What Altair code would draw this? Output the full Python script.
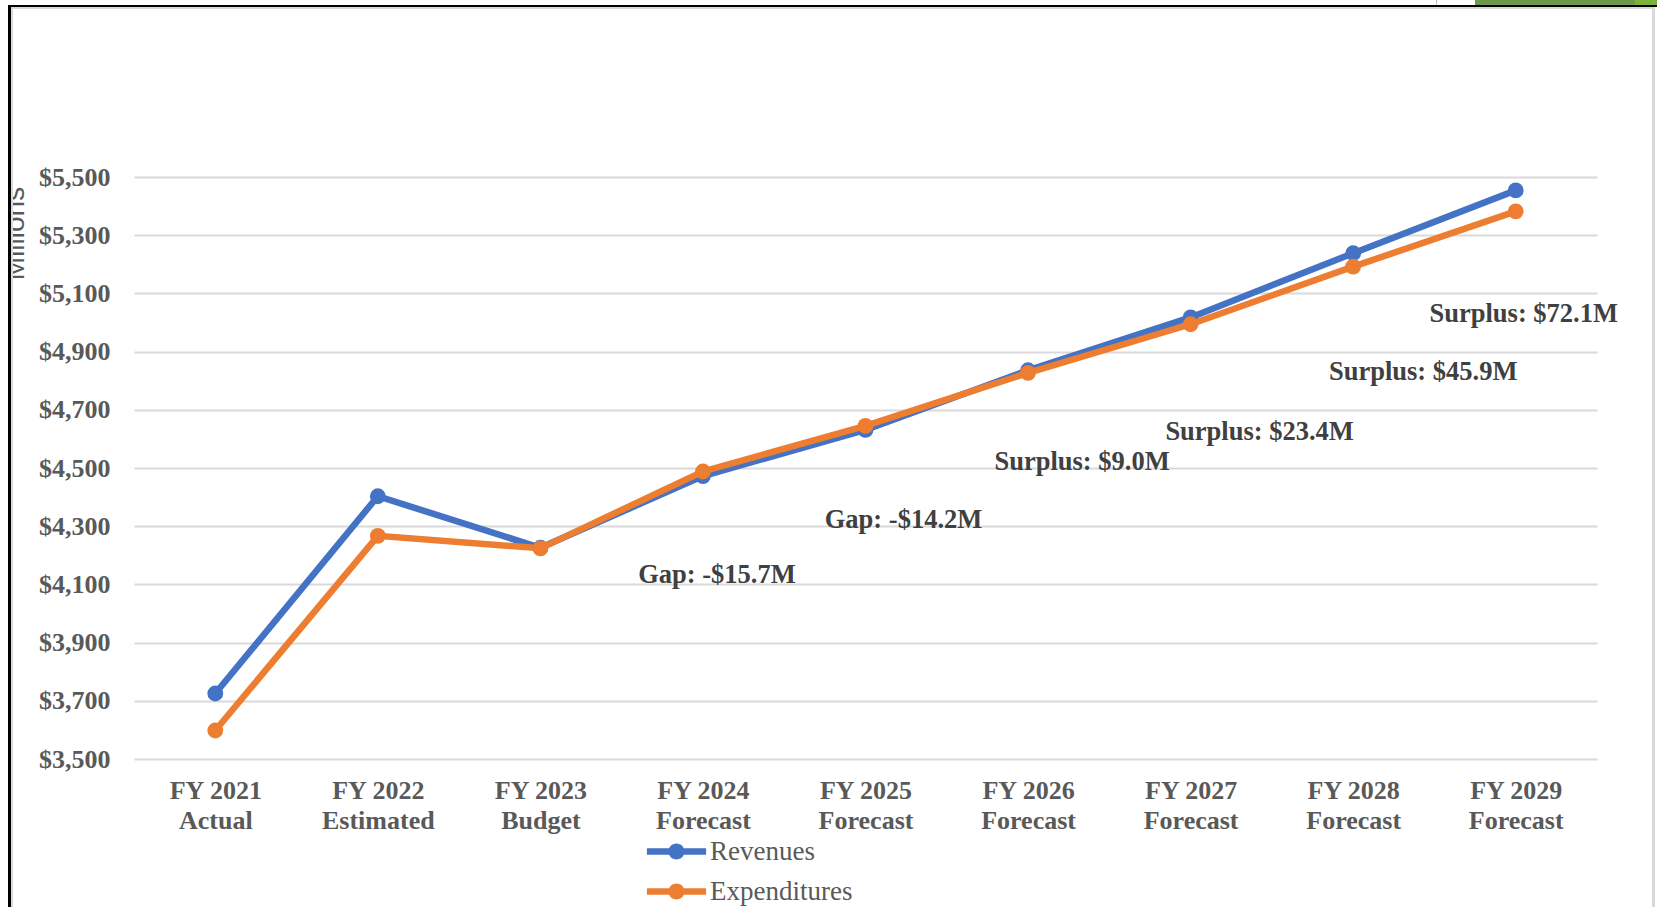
import altair as alt
import pandas as pd

# ---- data (millions of dollars) ----
fiscal_years = ["FY 2021", "FY 2022", "FY 2023", "FY 2024", "FY 2025",
                "FY 2026", "FY 2027", "FY 2028", "FY 2029"]
stages = ["Actual", "Estimated", "Budget", "Forecast", "Forecast",
          "Forecast", "Forecast", "Forecast", "Forecast"]
revenues = [3725.0, 4403.0, 4226.0, 4472.3, 4630.8, 4836.0, 5017.4, 5238.0, 5454.0]
expenditures = [3598.0, 4267.0, 4224.0, 4488.0, 4645.0, 4827.0, 4994.0, 5192.1, 5381.9]
# height (in millions) at which each gap/surplus note sits; None = no note
note_levels = [None, None, None, 4131, 4320, 4520, 4625, 4831, 5028]
y_ticks = [3500, 3700, 3900, 4100, 4300, 4500, 4700, 4900, 5100, 5300, 5500]

# horizontal nudge of each note from its fiscal-year position (px)
NOTE_DX = [0, 0, 0, 14, 38, 54, 69, 70, 8]

categories = [f"{y} {s}" for y, s in zip(fiscal_years, stages)]
series_names = ["Revenues", "Expenditures"]
series_colors = ["#4472C4", "#ED7D31"]

rows = []
for name, vals in zip(series_names, [revenues, expenditures]):
    for c, v in zip(categories, vals):
        rows.append({"category": c, "series": name, "value": v})
df = pd.DataFrame(rows)

notes = []
for c, r, e, lvl, dx in zip(categories, revenues, expenditures, note_levels, NOTE_DX):
    if lvl is None:
        continue
    d = round(r - e, 1)
    text = f"Surplus: ${d:.1f}M" if d >= 0 else f"Gap: -${abs(d):.1f}M"
    notes.append({"category": c, "level": lvl, "note": text, "dx": dx})
notes_df = pd.DataFrame(notes)

SERIF = "Liberation Serif"
GREY = "#595959"

# line + marker glyph for the legend (wide bar with a dot in the middle)
LEGEND_GLYPH = ("M-3.7,-0.4 L3.7,-0.4 L3.7,0.4 L-3.7,0.4 Z "
                "M1,0 A1,1 0 1,1 -1,0 A1,1 0 1,1 1,0 Z")

x_enc = alt.X(
    "category:N",
    sort=categories,
    title=None,
    axis=alt.Axis(
        labelAngle=0,
        labelExpr="[slice(datum.value, 0, 7), slice(datum.value, 8)]",
        labelFont=SERIF, labelFontSize=26, labelFontWeight="bold",
        labelColor=GREY, labelLineHeight=30, labelPadding=18,
        ticks=False, tickSize=0, domain=False, grid=False,
    ),
)
y_enc = alt.Y(
    "value:Q",
    scale=alt.Scale(domain=[3500, 5500], nice=False, zero=False),
    axis=alt.Axis(
        values=y_ticks, format="$,.0f",
        labelFont=SERIF, labelFontSize=26, labelFontWeight="bold",
        labelColor=GREY, labelPadding=24,
        ticks=False, tickSize=0, domain=False,
        grid=True, gridColor="#d9d9d9", gridWidth=2,
        title="Millions", titleFont="Liberation Sans", titleFontSize=28,
        titleFontWeight="normal", titleColor=GREY, titleAngle=270,
        titleX=-111, titleY=56, titleAlign="center", titleBaseline="alphabetic",
    ),
)
color_enc = alt.Color(
    "series:N",
    scale=alt.Scale(domain=series_names, range=series_colors),
    legend=alt.Legend(
        title=None, orient="none", legendX=529, legendY=661,
        symbolType=LEGEND_GLYPH, symbolSize=256, symbolStrokeWidth=0,
        symbolOpacity=1,
        labelFont=SERIF, labelFontSize=27, labelColor=GREY,
        labelOffset=20, rowPadding=12, padding=0,
    ),
)

layers = []
for name, col in zip(series_names, series_colors):
    sub = alt.Chart(df).transform_filter(alt.datum.series == name)
    layers.append(sub.mark_line(strokeWidth=6.5, color=col).encode(x=x_enc, y=y_enc))
    layers.append(
        sub.mark_circle(size=250, opacity=1).encode(x=x_enc, y=y_enc, color=color_enc)
    )

for _, n in notes_df.iterrows():
    layers.append(
        alt.Chart(notes_df[notes_df["category"] == n["category"]])
        .mark_text(font=SERIF, fontSize=26.5, fontWeight="bold", color="#404040",
                   baseline="middle", dx=float(n["dx"]))
        .encode(x=alt.X("category:N", sort=categories), y=alt.Y("level:Q"), text="note:N")
    )

# slide frame around the chart (pixel offsets from the plot origin)
one = pd.DataFrame({"k": [0]})
frame = [
    (-134, -126, -177, 730, "#ffffff"),    # clip strip on the far left
    (-126, -123, -172, 730, "#000000"),    # left black edge
    (-123, -121, -170, 730, "#d9d9d9"),    # left inner edge
    (-126, 1523, -172, -170, "#000000"),   # top black edge
    (-123, 1521, -170, -168, "#d9d9d9"),   # top inner edge
    (1518, 1521, -170, 730, "#d9d9d9"),    # right inner edge
    (1341, 1523, -177, -172, "#6B9B4A"),   # green tab
    (1501, 1523, -177, -172, "#7DB23A"),   # lighter tab end
    (1302, 1303, -177, -172, "#bfbfbf"),   # thin divider
]
for x1, x2, y1, y2, col in frame:
    layers.append(
        alt.Chart(one).mark_rect(color=col).encode(
            x=alt.value(x1), x2=alt.value(x2), y=alt.value(y1), y2=alt.value(y2)
        )
    )

chart = (
    alt.layer(*layers)
    .properties(
        width=1463, height=582,
        padding={"left": 134, "top": 177, "right": 60, "bottom": 148},
        autosize=alt.AutoSizeParams(type="none"),
        background="#ffffff",
    )
    .configure_view(stroke=None)
)

chart.save("out.html", embed_options={"renderer": "svg", "actions": False})
